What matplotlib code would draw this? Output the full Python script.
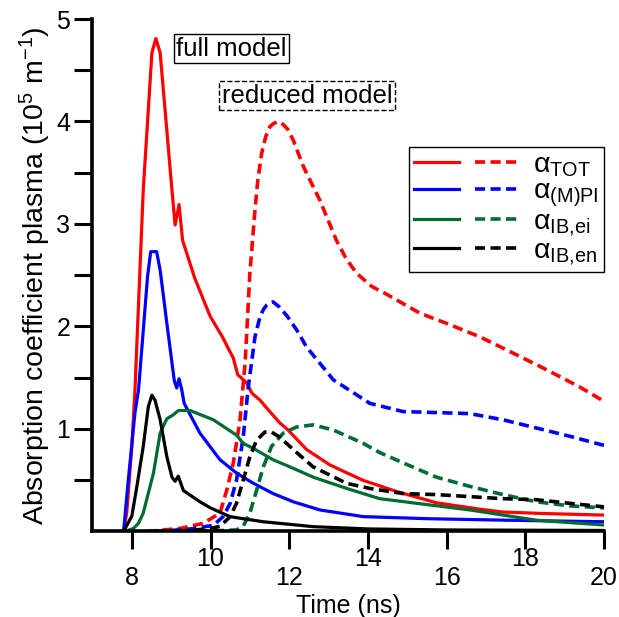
import matplotlib
matplotlib.use("Agg")
import matplotlib.pyplot as plt
from matplotlib.legend_handler import HandlerTuple

plt.rcParams['font.family'] = 'Liberation Sans'
plt.rcParams['mathtext.fontset'] = 'custom'
plt.rcParams['mathtext.rm'] = 'Liberation Sans'
plt.rcParams['mathtext.it'] = 'Liberation Sans:italic'
plt.rcParams['mathtext.bf'] = 'Liberation Sans:bold'

# full model (solid)
t_tot_full = [7.79, 7.87, 8.0, 8.08, 8.29, 8.51, 8.61, 8.72, 9.02, 9.10, 9.20, 9.29, 9.60, 9.99,
              10.30, 10.58, 10.69, 10.92, 11.05, 11.26, 11.46, 11.76, 11.97, 12.44, 13.03, 13.87,
              14.73, 15.74, 16.8, 17.42, 18.5, 20.0]
a_tot_full = [0.0, 0.18, 0.83, 1.38, 3.33, 4.67, 4.81, 4.67, 3.33, 2.99, 3.19, 2.84, 2.47, 2.10,
              1.90, 1.69, 1.53, 1.45, 1.35, 1.28, 1.19, 1.06, 0.99, 0.80, 0.65, 0.50,
              0.39, 0.28, 0.22, 0.19, 0.175, 0.16]

t_mpi_full = [7.79, 7.91, 8.08, 8.17, 8.40, 8.48, 8.63, 8.72, 8.89, 9.08, 9.14, 9.20, 9.27, 9.33,
              9.73, 10.24, 10.66, 11.09, 11.59, 12.10, 12.78, 13.88, 15.5, 17.5, 20.0]
a_mpi_full = [0.0, 0.50, 1.16, 1.38, 2.49, 2.73, 2.73, 2.55, 2.03, 1.47, 1.40, 1.49, 1.38, 1.25,
              0.96, 0.70, 0.57, 0.47, 0.37, 0.29, 0.21, 0.145, 0.125, 0.11, 0.095]

t_ei_full = [7.83, 8.04, 8.17, 8.29, 8.55, 8.72, 8.89, 9.06, 9.18, 9.48, 10.07, 10.66, 10.83, 11.09,
             11.59, 12.02, 12.61, 13.46, 14.30, 16.59, 18.28, 20.0]
a_ei_full = [0.0, 0.03, 0.08, 0.18, 0.57, 0.96, 1.10, 1.14, 1.18, 1.18, 1.09, 0.94, 0.86, 0.81,
             0.70, 0.63, 0.53, 0.42, 0.32, 0.21, 0.11, 0.063]

t_en_full = [7.79, 8.0, 8.12, 8.29, 8.42, 8.51, 8.59, 8.72, 8.89, 9.02, 9.10, 9.18, 9.31, 9.73, 10.0,
             10.49, 11.34, 12.61, 14.0, 16.0, 20.0]
a_en_full = [0.0, 0.15, 0.42, 0.83, 1.22, 1.33, 1.28, 1.09, 0.73, 0.53, 0.49, 0.54, 0.40, 0.29, 0.23,
             0.145, 0.095, 0.047, 0.025, 0.015, 0.01]

# reduced model (dashed)
t_tot_red = [8.38, 9.23, 9.82, 10.24, 10.41, 10.58, 10.75, 10.88, 11.0, 11.13, 11.2, 11.30, 11.4,
             11.51, 11.6, 11.72, 11.85, 11.97, 12.1, 12.36, 12.78, 13.20, 13.45, 13.71, 14.1, 14.45,
             15.32, 16.0, 16.84, 17.69, 18.53, 19.38, 20.0]
a_tot_red = [0.0, 0.03, 0.08, 0.18, 0.40, 0.67, 1.09, 1.65, 2.52, 3.14, 3.42, 3.69, 3.85,
             3.95, 3.98, 4.0, 3.97, 3.92, 3.82, 3.56, 3.23, 2.84, 2.66, 2.52, 2.39, 2.32,
             2.13, 2.03, 1.90, 1.74, 1.58, 1.41, 1.27]

t_mpi_red = [8.6, 9.0, 9.5, 10.07, 10.32, 10.50, 10.66, 10.83, 10.96, 11.13, 11.26, 11.35, 11.43,
             11.5, 11.59, 11.75, 11.95, 12.2, 12.44, 13.12, 14.05, 14.89, 15.74, 16.59, 17.43,
             18.28, 19.12, 20.0]
a_mpi_red = [0.0, 0.01, 0.025, 0.06, 0.145, 0.275, 0.50, 0.92, 1.41, 1.90, 2.10, 2.17, 2.21,
             2.23, 2.24, 2.19, 2.10, 1.96, 1.80, 1.48, 1.25, 1.17, 1.16, 1.15, 1.09,
             1.01, 0.93, 0.84]

t_ei_red = [8.9, 10.0, 10.66, 10.83, 11.0, 11.17, 11.34, 11.55, 11.85, 12.19, 12.61, 13.12, 13.88,
            14.30, 14.89, 15.74, 16.59, 17.43, 18.28, 19.12, 20.0]
a_ei_red = [0.0, 0.005, 0.015, 0.05, 0.18, 0.40, 0.63, 0.83, 0.96, 1.02, 1.04, 0.99, 0.86,
            0.77, 0.67, 0.53, 0.44, 0.36, 0.29, 0.25, 0.23]

t_en_red = [8.8, 9.5, 10.0, 10.24, 10.5, 10.66, 10.83, 11.0, 11.17, 11.38, 11.55, 11.76, 12.10,
            12.61, 13.46, 14.05, 14.89, 15.74, 16.59, 17.43, 18.28, 19.12, 20.0]
a_en_red = [0.0, 0.01, 0.03, 0.05, 0.145, 0.275, 0.50, 0.73, 0.89, 0.97, 0.97, 0.92, 0.80,
            0.63, 0.47, 0.42, 0.37, 0.36, 0.34, 0.32, 0.31, 0.275, 0.24]

labels = [r'$\mathrm{α}_{\mathrm{TOT}}$', r'$\mathrm{α}_{\mathrm{(M)PI}}$',
          r'$\mathrm{α}_{\mathrm{IB{,}ei}}$', r'$\mathrm{α}_{\mathrm{IB{,}en}}$']
colors = ['#ff0000', '#0000ff', '#006b33', '#000000']

full = [(t_tot_full, a_tot_full), (t_mpi_full, a_mpi_full), (t_ei_full, a_ei_full), (t_en_full, a_en_full)]
reduced = [(t_tot_red, a_tot_red), (t_mpi_red, a_mpi_red), (t_ei_red, a_ei_red), (t_en_red, a_en_red)]

fig = plt.figure(figsize=(6.19, 6.17), dpi=100)
ax = fig.add_axes([0.1494, 0.1386, 0.8264, 0.8306])

handles = []
for (tf, af), (tr, ar), c in zip(full, reduced, colors):
    ls, = ax.plot(tf, af, color=c, lw=2.3, solid_joinstyle='round')
    ld, = ax.plot(tr, ar, color=c, lw=2.6, linestyle=(0, (2.8, 1.5)))
    handles.append((ls, ld))

ax.set_xlim(7, 20)
ax.set_ylim(0, 5)

# staggered x tick labels
ax.set_xticks([8, 12, 16, 20])
ax.set_xticks([10, 14, 18], minor=True)
ax.set_xticklabels(['8', '12', '16', '20'])
ax.set_xticklabels(['10', '14', '18'], minor=True)
ax.set_yticks([1, 2, 3, 4, 5])
ax.set_yticks([0.5, 1.5, 2.5, 3.5, 4.5], minor=True)

ax.tick_params(axis='both', which='both', direction='out', length=13, width=2.2, labelsize=18)
ax.tick_params(axis='x', which='major', pad=12)
ax.tick_params(axis='x', which='minor', pad=-1.5)
ax.tick_params(axis='y', which='both', pad=3)

for s in ['top', 'right']:
    ax.spines[s].set_visible(False)
for s in ['left', 'bottom']:
    ax.spines[s].set_linewidth(2.6)

ax.set_xlabel('Time (ns)', fontsize=18, labelpad=3)
ax.set_ylabel(r'Absorption coefficient plasma (10$^{5}$ m$^{-1}$)', fontsize=20.5, labelpad=2)

ax.text(10.53, 4.71, 'full model', ha='center', va='center', fontsize=18.5,
        bbox=dict(boxstyle='square,pad=0.1', fc='white', ec='black', lw=1))
ax.text(12.45, 4.25, 'reduced model', ha='center', va='center', fontsize=18.5,
        bbox=dict(boxstyle='square,pad=0.1', fc='white', ec='black', lw=1, ls='--'))

leg = ax.legend(handles, labels, handler_map={tuple: HandlerTuple(ndivide=None, pad=0.55)},
                loc='upper right', bbox_to_anchor=(1.0, 0.75), borderaxespad=0,
                fontsize=20.5, handlelength=3.75, handletextpad=0.45, borderpad=0.18,
                labelspacing=0.0, fancybox=False, edgecolor='black', framealpha=1)
leg.get_frame().set_linewidth(1.0)

fig.savefig('out.png', dpi=100)
